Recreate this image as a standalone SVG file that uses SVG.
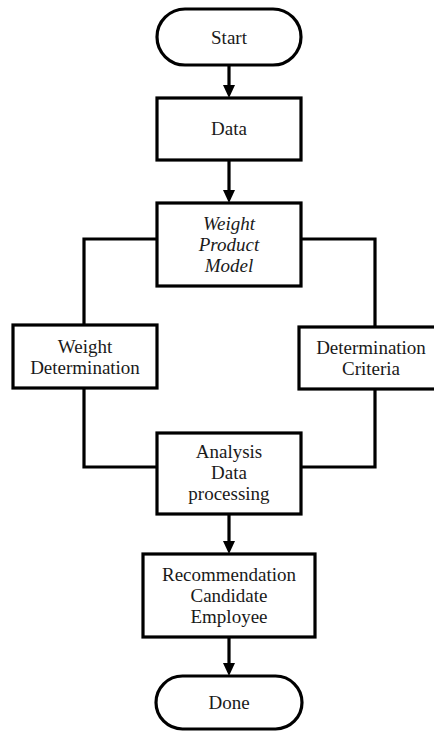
<svg xmlns="http://www.w3.org/2000/svg" width="434" height="731" viewBox="0 0 434 731">
<defs>
<marker id="ah" markerUnits="userSpaceOnUse" markerWidth="13" markerHeight="13" viewBox="0 0 13 12" refX="1" refY="6" orient="auto">
<path d="M0,0 L13,6 L0,12 Z" fill="#000"/>
</marker>
<style>
.box{fill:#fff;stroke:#000;stroke-width:3.2}
.con{fill:none;stroke:#000;stroke-width:3.2}
.t{font-family:"Liberation Serif","Times New Roman",serif;font-size:19px;fill:#1a1a1a;text-anchor:middle}
.i{font-style:italic}
</style>
</defs>
<rect width="434" height="731" fill="#fff"/>
<g id="connectors">
<line class="con" x1="229" y1="65" x2="229" y2="86" marker-end="url(#ah)"/>
<line class="con" x1="229" y1="160" x2="229" y2="191" marker-end="url(#ah)"/>
<polyline class="con" points="157,239 84,239 84,325"/>
<polyline class="con" points="301,239 375,239 375,327"/>
<polyline class="con" points="84,388 84,467 157,467"/>
<polyline class="con" points="375,389 375,467 301,467"/>
<line class="con" x1="229" y1="514" x2="229" y2="542" marker-end="url(#ah)"/>
<line class="con" x1="229" y1="637" x2="229" y2="664" marker-end="url(#ah)"/>
</g>
<g id="start">
<rect class="box" x="157" y="9" width="144" height="56" rx="28"/>
<text class="t" x="229" y="44">Start</text>
</g>
<g id="data">
<rect class="box" x="157" y="98" width="144" height="62"/>
<text class="t" x="229" y="135">Data</text>
</g>
<g id="wpm">
<rect class="box" x="157" y="203" width="144" height="83"/>
<text class="t i" x="229" y="230">Weight</text>
<text class="t i" x="229" y="251">Product</text>
<text class="t i" x="229" y="272">Model</text>
</g>
<g id="weight-determination">
<rect class="box" x="13" y="325" width="144" height="63"/>
<text class="t" x="85" y="353">Weight</text>
<text class="t" x="85" y="374">Determination</text>
</g>
<g id="determination-criteria">
<rect class="box" x="299" y="327" width="144" height="62"/>
<text class="t" x="371" y="354">Determination</text>
<text class="t" x="371" y="375">Criteria</text>
</g>
<g id="analysis">
<rect class="box" x="157" y="433" width="144" height="81"/>
<text class="t" x="229" y="458">Analysis</text>
<text class="t" x="229" y="479">Data</text>
<text class="t" x="229" y="500">processing</text>
</g>
<g id="recommendation">
<rect class="box" x="143" y="554" width="172" height="83"/>
<text class="t" x="229" y="581">Recommendation</text>
<text class="t" x="229" y="602">Candidate</text>
<text class="t" x="229" y="623">Employee</text>
</g>
<g id="done">
<rect class="box" x="156" y="676" width="146" height="53" rx="26.5"/>
<text class="t" x="229" y="709">Done</text>
</g>
</svg>
